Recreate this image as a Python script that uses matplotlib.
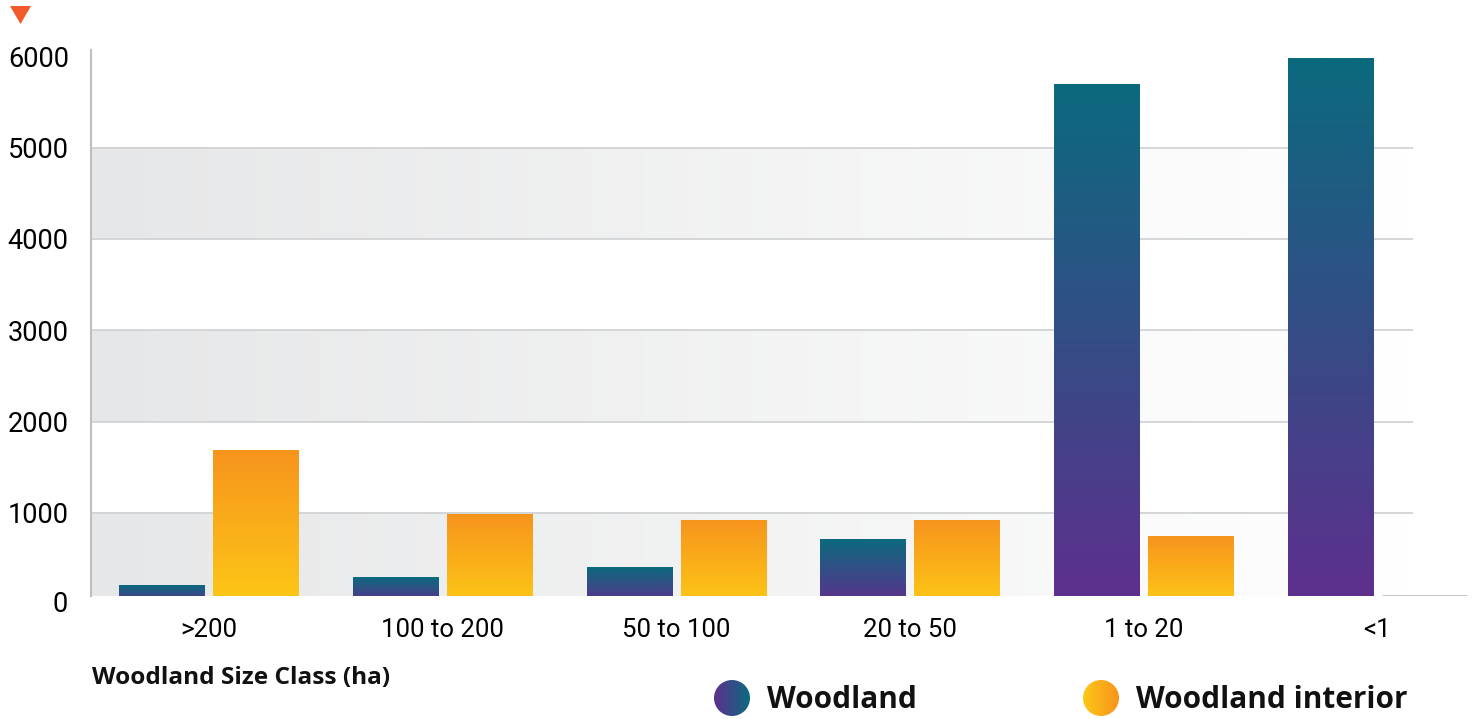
import numpy as np
import matplotlib
matplotlib.use('Agg')
import matplotlib.pyplot as plt
from matplotlib.colors import LinearSegmentedColormap
from matplotlib.patches import Circle, Polygon

# data
size_classes = ['>200', '100 to 200', '50 to 100', '20 to 50', '1 to 20', '<1']
woodland = [208, 296, 405, 712, 5688, 5973]
woodland_interior = [1677, 986, 920, 910, 745, 0]
y_ticks = [0, 1000, 2000, 3000, 4000, 5000, 6000]

W_BOT, W_TOP = '#5f2f8e', '#0b6a7e'
I_BOT, I_TOP = '#fdc816', '#f7941d'
TICK_FONT = ['Roboto', 'DejaVu Sans']
BOLD_FONT = ['Open Sans', 'DejaVu Sans']

fig = plt.figure(figsize=(14.75, 7.19), dpi=100)
W, H = 1475, 719
ax = fig.add_axes([91 / W, (H - 596) / H, (1470 - 91) / W, (596 - 50) / H])

ymin, ymax = 88, 6071
xmin, xmax = -0.5026, 5.396
band_right = 5.152

# background bands, grey fading to white
band_cmap = LinearSegmentedColormap.from_list('band', ['#e6e7e8', '#ffffff'])
hgrad = np.linspace(0, 1, 256).reshape(1, -1)
for y0, y1 in [(ymin, 1000), (2000, 3000), (4000, 5000)]:
    ax.imshow(hgrad, cmap=band_cmap, extent=(xmin, band_right, y0, y1),
              aspect='auto', zorder=0, interpolation='bilinear')
ax.hlines(y_ticks[1:-1], xmin, band_right, color='#d1d3d4', lw=1.3, zorder=1)

# gradient bars
vgrad = np.linspace(0, 1, 256).reshape(-1, 1)
w_cmap = LinearSegmentedColormap.from_list('w', [W_BOT, W_TOP])
i_cmap = LinearSegmentedColormap.from_list('i', [I_BOT, I_TOP])
bw = 0.3636
x = np.arange(len(size_classes))
for xi, hw, hi in zip(x, woodland, woodland_interior):
    for off, h, cm in [(-0.201, hw, w_cmap), (0.201, hi, i_cmap)]:
        if h > 0:
            ax.imshow(vgrad, cmap=cm, origin='lower', aspect='auto', zorder=3,
                      extent=(xi + off - bw / 2, xi + off + bw / 2, 0, h))
        else:
            ax.hlines(ymin + 5, xi + off - bw / 2, xi + off + bw / 2,
                      color='#c4c4c4', lw=2, zorder=3)

ax.set_xlim(xmin, xmax)
ax.set_ylim(ymin, ymax)
for s in ['top', 'right', 'bottom']:
    ax.spines[s].set_visible(False)
ax.spines['left'].set_color('#bcbec0')
ax.spines['left'].set_linewidth(1.5)

ax.set_yticks(y_ticks[1:])
ax.set_yticklabels([str(t) for t in y_ticks[1:]], family=TICK_FONT,
                   fontsize=19.5, color='#000000')
ax.text(-0.017, 0, '0', transform=ax.get_yaxis_transform(), ha='right',
        va='center', family=TICK_FONT, fontsize=19.5,
        color='#000000', clip_on=False)
ax.tick_params(axis='y', length=0, pad=16)
ax.set_xticks(x)
ax.set_xticklabels(size_classes, family=TICK_FONT, fontsize=18.5,
                   color='#000000')
ax.tick_params(axis='x', length=0, pad=16)

# overlay for decorations and legend (pixel coords)
ov = fig.add_axes([0, 0, 1, 1], zorder=5)
ov.set_xlim(0, W)
ov.set_ylim(H, 0)
ov.axis('off')
ov.add_patch(Polygon([(10, 6), (31, 6), (20.5, 24)], closed=True,
                     color='#f15a29', lw=0))

ov.text(92, 678, 'Woodland Size Class (ha)', family=BOLD_FONT, fontweight='bold',
        fontsize=17.6, va='center', ha='left', color='#111111')

hg = np.linspace(0, 1, 256).reshape(1, -1)
for cx, txt, cm in [(732, 'Woodland', w_cmap), (1101, 'Woodland interior', i_cmap)]:
    r = 18
    im = ov.imshow(hg, cmap=cm, extent=(cx - r, cx + r, 698 + r, 698 - r),
                   aspect='auto', zorder=6)
    circ = Circle((cx, 698), r, transform=ov.transData)
    im.set_clip_path(circ)
    ov.text(cx + 35, 700, txt, family=BOLD_FONT, fontweight='bold',
            fontsize=21.4, va='center', ha='left', color='#111111')
ov.set_xlim(0, W)
ov.set_ylim(H, 0)

fig.savefig('out.png', dpi=100)
